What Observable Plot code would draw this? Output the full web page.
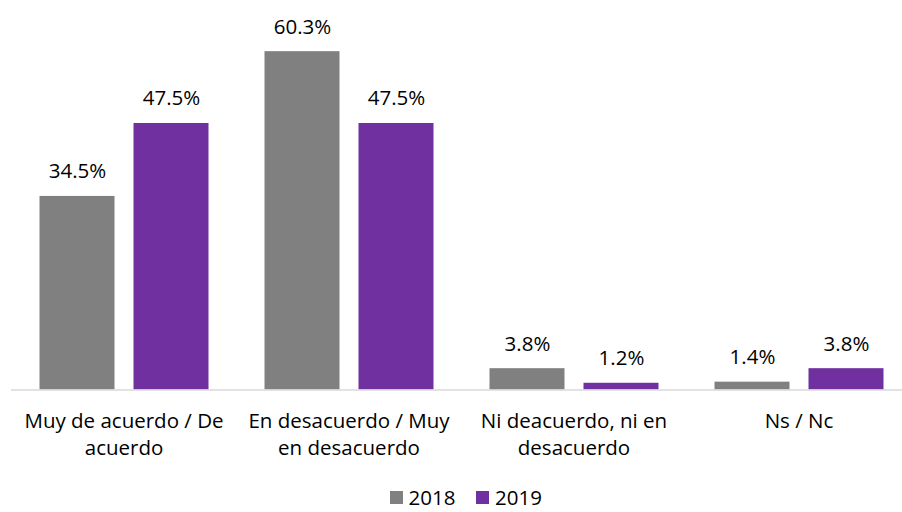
<!DOCTYPE html>
<html><head><meta charset="utf-8">
<script src="https://cdn.jsdelivr.net/npm/d3@7"></script>
<script src="https://cdn.jsdelivr.net/npm/@observablehq/plot@0.6"></script>
<style>
body{margin:0;background:#fff;font-family:"Open Sans",sans-serif;}
#chart{width:902px;height:480px;}
#legend{display:flex;justify-content:center;width:952px;height:20px;align-items:center;margin-top:7px;}
.lg-swatches{font-size:20.5px !important;font-family:"Open Sans",sans-serif !important;min-height:0 !important;margin:0 !important;line-height:1 !important;height:20px;}
.lg-swatch{font-size:20.5px !important;line-height:1 !important;}
.lg-swatch > svg{margin-right:6px !important;}
</style></head><body><div id="chart"></div><div id="legend"></div>
<script>
const categories = ["Muy de acuerdo / De acuerdo","En desacuerdo / Muy en desacuerdo","Ni deacuerdo, ni en desacuerdo","Ns / Nc"];
const categoryLabels = ["Muy de acuerdo / De\nacuerdo","En desacuerdo / Muy\nen desacuerdo","Ni deacuerdo, ni en\ndesacuerdo","Ns / Nc"];
const years = ["2018","2019"];
const values2018 = [34.5, 60.3, 3.8, 1.4];
const values2019 = [47.5, 47.5, 1.2, 3.8];
const colors = ["#808080","#7030A0"];

const data = categories.flatMap((c,i)=>[
  {category:c, year:years[0], value:values2018[i]},
  {category:c, year:years[1], value:values2019[i]}
]);

const W = 902, left = 10.5, right = -10;
const halfBand = (W - right - left) / categories.length / 2;
const font = '"Open Sans", sans-serif';

const chart = Plot.plot({
  width: W, height: 480,
  marginTop: 24.8, marginBottom: 90.5, marginLeft: left, marginRight: right,
  style: {fontFamily: font, fontSize: "20.5px", color: "#000", background: "#fff", overflow: "visible", display: "block"},
  fx: {domain: categories, padding: 0, axis: null},
  x: {domain: years, paddingInner: 0.206, paddingOuter: 0.296, axis: null},
  y: {domain: [0, 65], axis: null},
  color: {domain: years, range: colors},
  marks: [
    Plot.barY(data, {fx: "category", x: "year", y: "value", fill: "year"}),
    Plot.ruleY([0], {stroke: "#d9d9d9", strokeWidth: 1.3}),
    Plot.ruleX(categories, {fx: d => d, y1: 0, y2: 0, insetBottom: -7, dx: -halfBand, stroke: "#d9d9d9", strokeWidth: 1.3}),
    Plot.text(data, {fx: "category", x: "year", y: "value", text: d => d.value.toFixed(1) + "%", lineAnchor: "bottom", dy: -18, fill: "#000"}),
    Plot.text(categories, {fx: d => d, text: (d, i) => categoryLabels[i], frameAnchor: "bottom", lineAnchor: "top", dy: 19, lineHeight: 1.317, fill: "#000"})
  ]
});
document.getElementById("chart").append(chart);

const legend = Plot.legend({
  color: {domain: years, range: colors},
  legend: "swatches",
  swatchSize: 13,
  className: "lg",
  style: {fontFamily: font, fontSize: "20.5px", color: "#000"}
});
document.getElementById("legend").append(legend);
</script>
</body></html>
